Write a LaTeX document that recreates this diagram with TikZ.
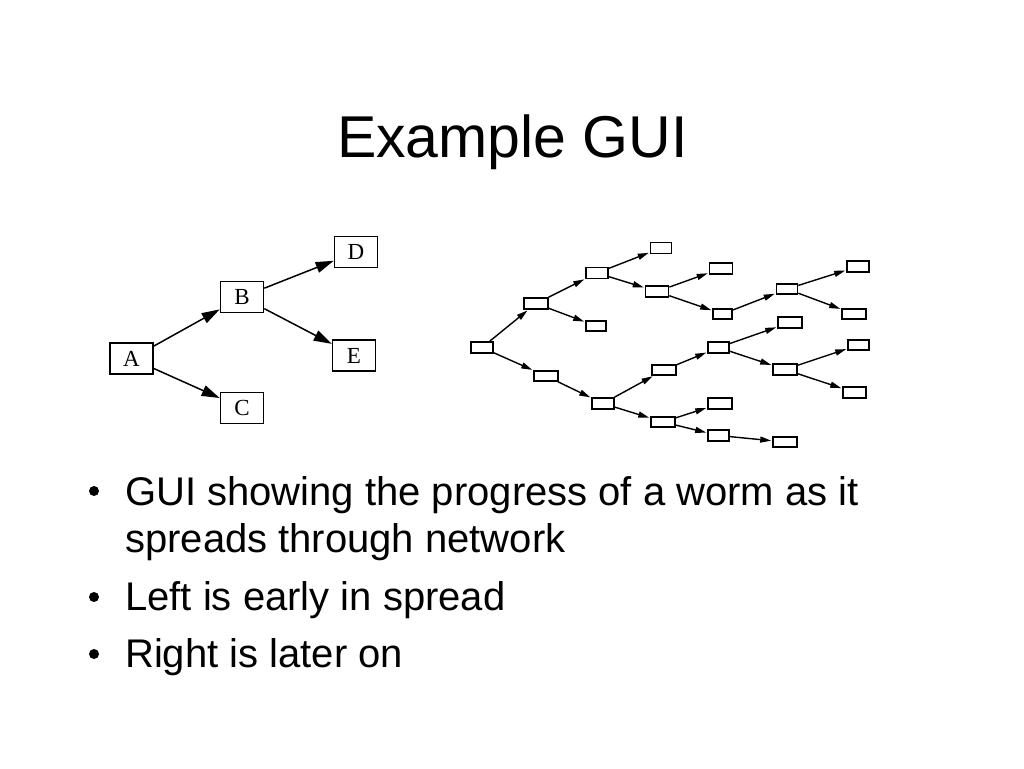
\documentclass[tikz,border=0pt]{standalone}
\usepackage{fontspec}
\setmainfont{Liberation Sans}
\newfontfamily\seriffont{Liberation Serif}
\usetikzlibrary{arrows.meta}
\tikzset{
  bigbox/.style={draw, line width=1.6pt, minimum width=43pt, minimum height=31pt, inner sep=0pt, font=\seriffont\fontsize{23}{23}\selectfont},
  smallbox/.style={draw, line width=1.6pt, minimum width=22pt, minimum height=11pt, inner sep=0pt},
  bigarrow/.style={line width=1.5pt, -{Triangle[length=18pt,width=11pt]}},
  smallarrow/.style={line width=1.4pt, -{Triangle[length=11pt,width=6pt]}, shorten >=1pt},
  bullettext/.style={anchor=base west, inner sep=0pt, font=\fontsize{40}{40}\selectfont},
  bulletdot/.style={circle, fill, inner sep=0pt, minimum size=10pt},
}
\begin{document}
\begin{tikzpicture}[x=1pt, y=-1pt]
\useasboundingbox (0,0) rectangle (1024,768);
\fill[white] (0,0) rectangle (1024,768);

% title
\node[anchor=base, inner sep=0pt, font=\fontsize{59}{59}\selectfont] (title) at (512.5,157) {Example GUI};

% left tree
\node[bigbox] (A) at (131.5,358.5) {A};
\node[bigbox] (B) at (242,297) {B};
\node[bigbox] (C) at (242,408) {C};
\node[bigbox] (D) at (356,252) {D};
\node[bigbox] (E) at (354,355.5) {E};
\draw[bigarrow] (A) -- (B);
\draw[bigarrow] (A) -- (C);
\draw[bigarrow] (B) -- (D);
\draw[bigarrow] (B) -- (E);

% right tree
\node[smallbox] (n1) at (482,347.5) {};
\node[smallbox, minimum width=24pt] (n2) at (536,303.5) {};
\node[smallbox] (n3) at (597,273) {};
\node[smallbox, minimum width=21pt] (n4) at (661,248) {};
\node[smallbox, minimum width=23pt] (n5) at (657,291.5) {};
\node[smallbox, minimum width=23pt] (n6) at (721,268.5) {};
\node[smallbox, minimum width=19pt, minimum height=10pt] (n7) at (722.5,314) {};
\node[smallbox, minimum width=21pt, minimum height=10pt] (n8) at (787,289) {};
\node[smallbox] (n9) at (858,266.5) {};
\node[smallbox, minimum width=24pt, minimum height=10pt] (n10) at (854,314) {};
\node[smallbox, minimum width=20pt, minimum height=10pt] (n11) at (596,326) {};
\node[smallbox, minimum width=24pt, minimum height=10pt] (n12) at (546,376) {};
\node[smallbox] (n13) at (603,403.5) {};
\node[smallbox, minimum width=24pt, minimum height=10pt] (n14) at (664,370) {};
\node[smallbox, minimum width=21pt] (n15) at (718.5,347.5) {};
\node[smallbox, minimum width=24pt] (n16) at (790,322.5) {};
\node[smallbox, minimum width=24pt] (n17) at (785,369.5) {};
\node[smallbox, minimum width=21pt, minimum height=10pt] (n18) at (858.5,345) {};
\node[smallbox, minimum width=23pt] (n19) at (854.5,392.5) {};
\node[smallbox, minimum width=24pt, minimum height=10pt] (n20) at (663,422) {};
\node[smallbox, minimum width=24pt] (n21) at (720,403.5) {};
\node[smallbox, minimum width=21pt] (n22) at (718.5,435.5) {};
\node[smallbox, minimum width=24pt, minimum height=10pt] (n23) at (785,442) {};

\draw[smallarrow] (n1) -- (n2);
\draw[smallarrow] (n1) -- (n12);
\draw[smallarrow] (n2) -- (n3);
\draw[smallarrow] (n2) -- (n11);
\draw[smallarrow] (n3) -- (n4);
\draw[smallarrow] (n3) -- (n5);
\draw[smallarrow] (n5) -- (n6);
\draw[smallarrow] (n5) -- (n7);
\draw[smallarrow] (n7) -- (n8);
\draw[smallarrow] (n8) -- (n9);
\draw[smallarrow] (n8) -- (n10);
\draw[smallarrow] (n12) -- (n13);
\draw[smallarrow] (n13) -- (n14);
\draw[smallarrow] (n13) -- (n20);
\draw[smallarrow] (n14) -- (n15);
\draw[smallarrow] (n15) -- (n16);
\draw[smallarrow] (n15) -- (n17);
\draw[smallarrow] (n17) -- (n18);
\draw[smallarrow] (n17) -- (n19);
\draw[smallarrow] (n20) -- (n21);
\draw[smallarrow] (n20) -- (n22);
\draw[smallarrow] (n22) -- (n23);

% bullets
\node[bulletdot] (b1) at (94,491) {};
\node[bullettext] (t1) at (125,505) {GUI showing the progress of a worm as it};
\node[bullettext] (t1b) at (125,552) {spreads through network};
\node[bulletdot] (b2) at (94,597) {};
\node[bullettext] (t2) at (125,610) {Left is early in spread};
\node[bulletdot] (b3) at (94,654) {};
\node[bullettext] (t3) at (125,667) {Right is later on};
\end{tikzpicture}
\end{document}
